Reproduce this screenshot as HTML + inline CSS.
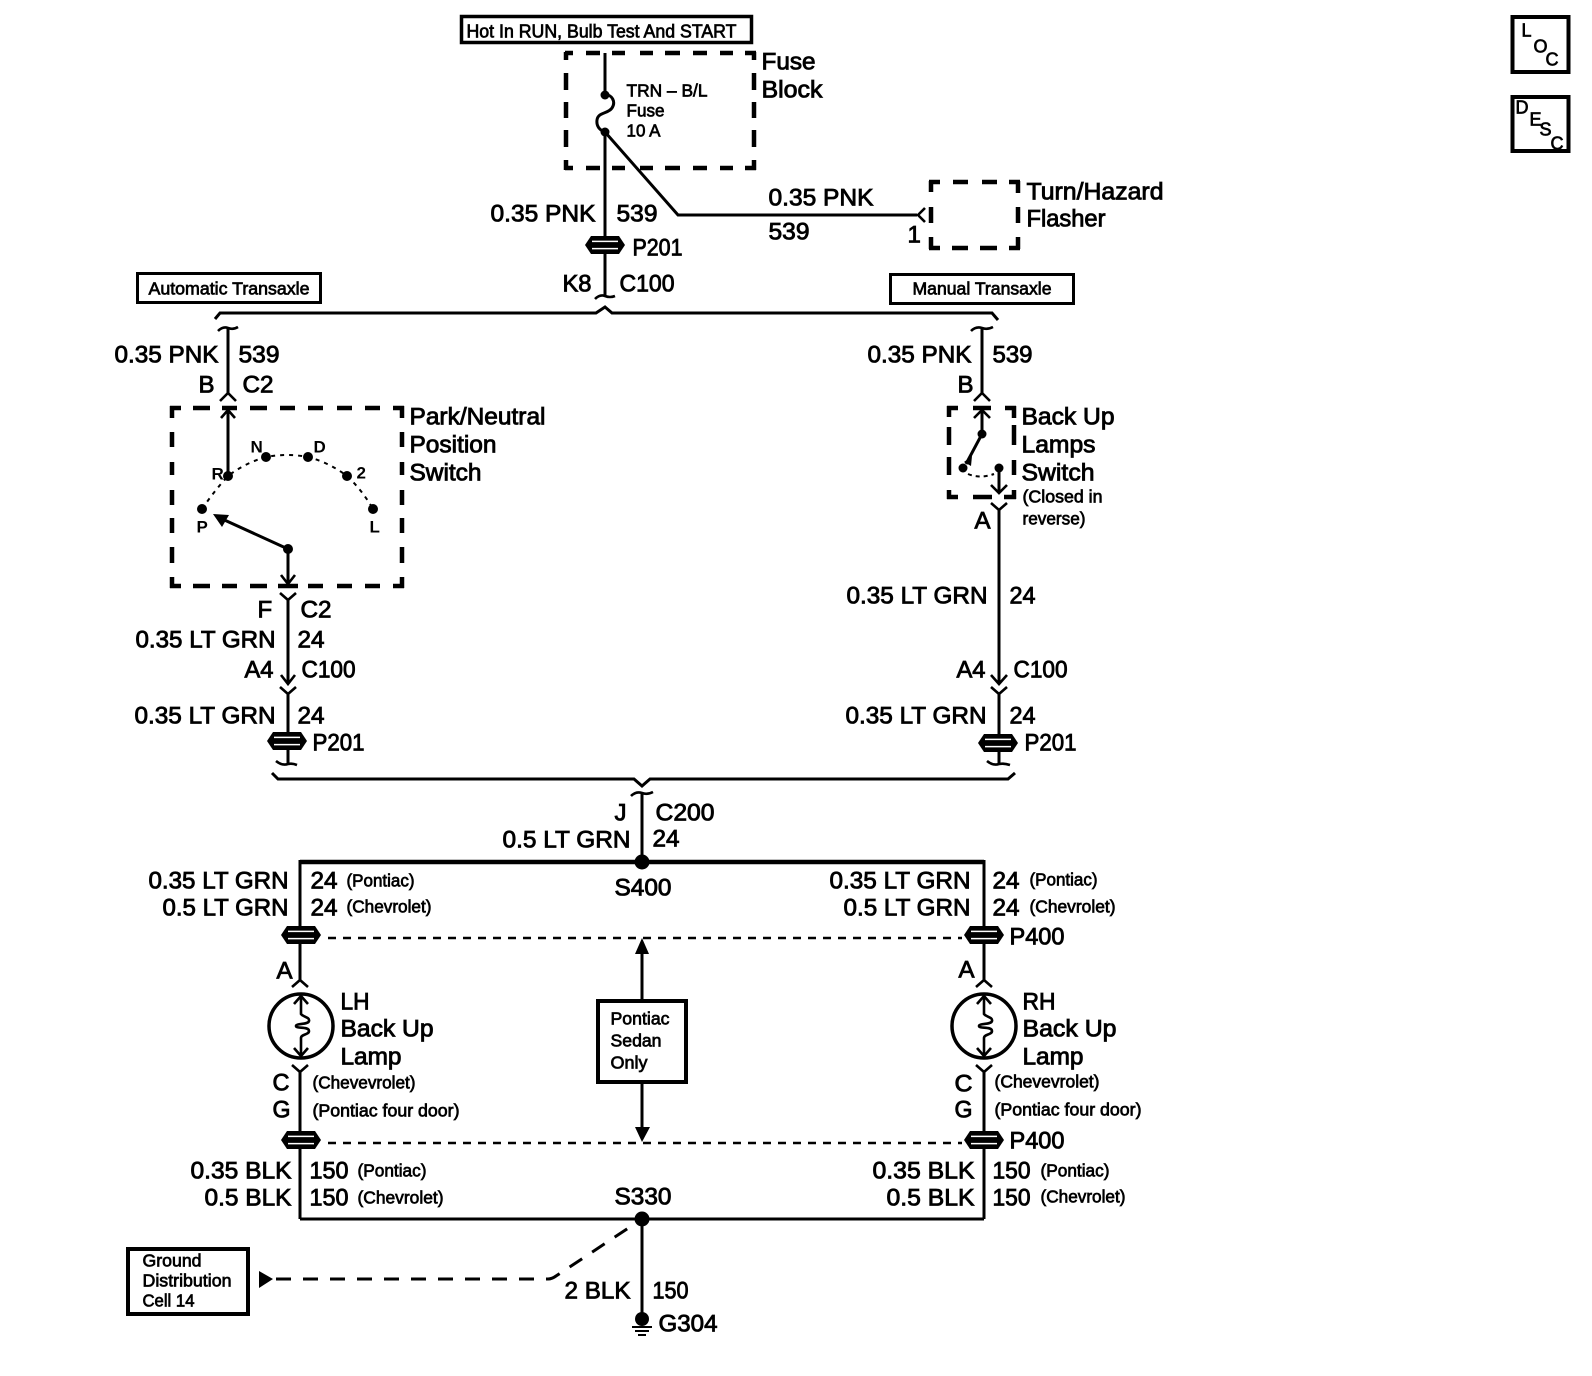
<!DOCTYPE html>
<html lang="en">
<head>
<meta charset="utf-8">
<title>Back Up Lamps Wiring Diagram</title>
<style>
html,body{margin:0;padding:0;background:#fff;width:1592px;height:1376px;overflow:hidden}
svg{display:block}
text{font-family:"Liberation Sans",sans-serif;fill:#000;stroke:#000;stroke-width:.85;transform:translate(-.5px,-.5px)}
.l{font-size:24px}
.m{font-size:18px;stroke-width:.7}
.s{font-size:17.5px;stroke-width:.7}
.t{font-size:17px;font-weight:bold;stroke-width:0}
.w{fill:none;stroke:#000;stroke-width:3}
.c{fill:none;stroke:#000;stroke-width:2.6}
.d{fill:none;stroke:#000;stroke-width:4.5}
.b{fill:#fff;stroke:#000}
</style>
</head>
<body>
<svg width="1592" height="1376" viewBox="0 0 1592 1376" xmlns="http://www.w3.org/2000/svg">
<defs>
<g id="conn">
<path d="M-20,0 L-14,-9 H14 L20,0 L14,9 H-14 Z" fill="#000"/>
<path d="M-13,-3.6 H13 M-13,3.6 H13" stroke="#fff" stroke-width="1.5"/>
</g>
</defs>
<rect width="1592" height="1376" fill="#fff"/>

<!-- Top box and fuse -->
<rect x="461.5" y="16.5" width="290" height="26" class="b" stroke-width="3.5"/>
<text class="m" x="467" y="38" textLength="270" lengthAdjust="spacingAndGlyphs">Hot In RUN, Bulb Test And START</text>
<g class="d">
<path d="M565,53 H573 M586,53 H600 M612,53 H625 M640,53 H653 M665,53 H680 M693,53 H707 M720,53 H733 M745,53 H756"/>
<path d="M565,168 H573 M586,168 H600 M612,168 H625 M640,168 H653 M665,168 H680 M693,168 H707 M720,168 H733 M745,168 H756"/>
<path d="M566,52 V60 M566,73 V90 M566,102 V118 M566,130 V147 M566,160 V170"/>
<path d="M754,52 V60 M754,73 V90 M754,102 V118 M754,130 V147 M754,160 V170"/>
</g>
<path class="w" d="M605,53 V95"/>
<circle cx="605" cy="95" r="4.5"/>
<path class="w" d="M605,95 C612,94 616,102 612,108 C608,114 598,112 597,120 C596,128 602,131 605,132"/>
<circle cx="605" cy="132" r="4.5"/>
<path class="w" d="M605,132 V237 M605,253 V295 M605,132 L678,215 H917"/>
<use href="#conn" x="605" y="245"/>
<path class="c" d="M595,299 Q600,294 605,296 Q610,298 615,296"/>
<text class="l" x="762" y="70" textLength="54" lengthAdjust="spacingAndGlyphs">Fuse</text>
<text class="l" x="762" y="98" textLength="61" lengthAdjust="spacingAndGlyphs">Block</text>
<text class="s" x="627" y="97" textLength="81" lengthAdjust="spacingAndGlyphs">TRN – B/L</text>
<text class="s" x="627" y="117" textLength="38" lengthAdjust="spacingAndGlyphs">Fuse</text>
<text class="s" x="627" y="137" textLength="34" lengthAdjust="spacingAndGlyphs">10 A</text>
<text class="l" x="491" y="222" textLength="105" lengthAdjust="spacingAndGlyphs">0.35 PNK</text>
<text class="l" x="617" y="222" textLength="41" lengthAdjust="spacingAndGlyphs">539</text>
<text class="l" x="633" y="256" textLength="50" lengthAdjust="spacingAndGlyphs">P201</text>
<text class="l" x="563" y="292" textLength="29" lengthAdjust="spacingAndGlyphs">K8</text>
<text class="l" x="620" y="292" textLength="55" lengthAdjust="spacingAndGlyphs">C100</text>

<!-- Flasher -->
<path class="c" d="M925,208 L918,215 L925,222"/>
<g class="d">
<path d="M929,182 H940 M953,182 H968 M982,182 H997 M1009,182 H1020"/>
<path d="M929,248 H940 M952,248 H968 M980,248 H997 M1009,248 H1020"/>
<path d="M931,181 V192 M931,207 V223 M931,237 V249"/>
<path d="M1018,181 V193 M1018,207 V223 M1018,237 V249"/>
</g>
<text class="l" x="769" y="206" textLength="105" lengthAdjust="spacingAndGlyphs">0.35 PNK</text>
<text class="l" x="769" y="240" textLength="41" lengthAdjust="spacingAndGlyphs">539</text>
<text class="l" x="908" y="243">1</text>
<text class="l" x="1027" y="200" textLength="137" lengthAdjust="spacingAndGlyphs">Turn/Hazard</text>
<text class="l" x="1027" y="227" textLength="79" lengthAdjust="spacingAndGlyphs">Flasher</text>

<!-- Transaxle boxes -->
<rect x="137.5" y="273.5" width="183" height="29" class="b" stroke-width="3"/>
<text class="s" x="149" y="295" textLength="161" lengthAdjust="spacingAndGlyphs">Automatic Transaxle</text>
<rect x="890.5" y="274.5" width="183" height="29" class="b" stroke-width="3"/>
<text class="s" x="913" y="295" textLength="139" lengthAdjust="spacingAndGlyphs">Manual Transaxle</text>

<!-- Upper bus -->
<path class="w" d="M215,319 L220,313 H596 L605,307 L612,313 H992 L998,320"/>

<!-- Park/Neutral branch -->
<path class="c" d="M218,331 Q223,326 228,328 Q233,330 238,327"/>
<path class="w" d="M228,328 V394"/>
<path class="c" d="M220,401 L228,393 L236,401"/>
<text class="l" x="115" y="363" textLength="104" lengthAdjust="spacingAndGlyphs">0.35 PNK</text>
<text class="l" x="239" y="363" textLength="41" lengthAdjust="spacingAndGlyphs">539</text>
<text class="l" x="199" y="393">B</text>
<text class="l" x="243" y="393" textLength="31" lengthAdjust="spacingAndGlyphs">C2</text>

<g class="d">
<path d="M170,408 H181 M193,408 H210 M222,408 H237 M250,408 H267 M280,408 H295 M308,408 H323 M337,408 H352 M365,408 H380 M393,408 H404"/>
<path d="M170,586 H181 M193,586 H210 M222,586 H237 M250,586 H267 M278,586 H298 M308,586 H323 M337,586 H352 M365,586 H380 M393,586 H404"/>
<path d="M172,406 V418 M172,432 V447 M172,462 V475 M172,490 V505 M172,518 V533 M172,547 V563 M172,577 V588"/>
<path d="M402,406 V418 M402,432 V447 M402,462 V475 M402,490 V505 M402,518 V533 M402,547 V563 M402,577 V588"/>
</g>
<path class="w" d="M228,410 V476"/>
<path class="c" d="M221,418 L228,410 L235,418"/>
<path fill="none" stroke="#000" stroke-width="2" stroke-dasharray="4 5" d="M202,509 Q215,490 228,476 Q245,463 266,457 Q287,453 308,457 Q330,463 347,476 Q362,490 373,509"/>
<g>
<circle cx="202" cy="509" r="5"/><circle cx="228" cy="476" r="5"/><circle cx="266" cy="457" r="5"/>
<circle cx="308" cy="457" r="5"/><circle cx="347" cy="476" r="5"/><circle cx="373" cy="509" r="5"/>
<circle cx="288" cy="549" r="5"/>
</g>
<path class="w" d="M288,549 L220,518 M288,549 V584"/>
<path d="M213,514 L229,515 L222,527 Z"/>
<path class="c" d="M281,575 L288,584 L295,575"/>
<text class="t" x="212" y="480">R</text>
<text class="t" x="251" y="453">N</text>
<text class="t" x="314" y="453">D</text>
<text class="t" x="357" y="479">2</text>
<text class="t" x="197" y="533">P</text>
<text class="t" x="370" y="533">L</text>
<text class="l" x="410" y="425" textLength="136" lengthAdjust="spacingAndGlyphs">Park/Neutral</text>
<text class="l" x="410" y="453" textLength="87" lengthAdjust="spacingAndGlyphs">Position</text>
<text class="l" x="410" y="481" textLength="72" lengthAdjust="spacingAndGlyphs">Switch</text>

<path class="c" d="M280,593 L288,600 L296,593"/>
<path class="w" d="M288,600 V684 M288,694 V733 M288,749 V765"/>
<path class="c" d="M281,675 L288,684 L295,675 M280,687 L288,694 L296,687"/>
<use href="#conn" x="287" y="741"/>
<path class="c" d="M276,761 Q282,766 288,764 Q292,763 297,765"/>
<text class="l" x="258" y="618">F</text>
<text class="l" x="301" y="618" textLength="31" lengthAdjust="spacingAndGlyphs">C2</text>
<text class="l" x="136" y="648" textLength="140" lengthAdjust="spacingAndGlyphs">0.35 LT GRN</text>
<text class="l" x="298" y="648" textLength="27" lengthAdjust="spacingAndGlyphs">24</text>
<text class="l" x="245" y="678" textLength="29" lengthAdjust="spacingAndGlyphs">A4</text>
<text class="l" x="302" y="678" textLength="54" lengthAdjust="spacingAndGlyphs">C100</text>
<text class="l" x="135" y="724" textLength="141" lengthAdjust="spacingAndGlyphs">0.35 LT GRN</text>
<text class="l" x="298" y="724" textLength="27" lengthAdjust="spacingAndGlyphs">24</text>
<text class="l" x="313" y="751" textLength="52" lengthAdjust="spacingAndGlyphs">P201</text>

<!-- Back Up Lamps switch branch -->
<path class="c" d="M971,331 Q976,326 982,328 Q987,330 993,327"/>
<path class="w" d="M982,328 V394"/>
<path class="c" d="M974,401 L982,393 L990,401"/>
<text class="l" x="868" y="363" textLength="104" lengthAdjust="spacingAndGlyphs">0.35 PNK</text>
<text class="l" x="993" y="363" textLength="40" lengthAdjust="spacingAndGlyphs">539</text>
<text class="l" x="958" y="393">B</text>
<g class="d">
<path d="M947,408 H958 M973,408 H991 M1005,408 H1016"/>
<path d="M947,497 H958 M973,497 H992 M1004,497 H1016"/>
<path d="M949,406 V417 M949,427 V445 M949,457 V475 M949,490 V499"/>
<path d="M1014,406 V418 M1014,425 V445 M1014,460 V475 M1014,490 V499"/>
</g>
<path class="w" d="M982,410 V434 L966,464"/>
<path class="c" d="M974,418 L982,410 L990,418"/>
<circle cx="982" cy="434" r="4.5"/>
<circle cx="963" cy="468" r="4.5"/>
<circle cx="999" cy="468" r="4.5"/>
<path d="M964,462 L972,456 L971,466 Z"/>
<path fill="none" stroke="#000" stroke-width="2" stroke-dasharray="4 4" d="M968,474 Q980,479 994,474"/>
<path class="w" d="M999,468 V493"/>
<path class="c" d="M991,485 L999,493 L1007,485"/>
<path class="c" d="M991,503 L999,510 L1007,503"/>
<path class="w" d="M999,510 V684 M999,694 V735 M999,751 V765"/>
<path class="c" d="M991,675 L999,684 L1007,675 M991,687 L999,694 L1007,687"/>
<use href="#conn" x="998" y="743"/>
<path class="c" d="M987,761 Q993,766 999,764 Q1004,763 1010,765"/>
<text class="l" x="1022" y="425" textLength="93" lengthAdjust="spacingAndGlyphs">Back Up</text>
<text class="l" x="1022" y="453" textLength="74" lengthAdjust="spacingAndGlyphs">Lamps</text>
<text class="l" x="1022" y="481" textLength="73" lengthAdjust="spacingAndGlyphs">Switch</text>
<text class="s" x="1023" y="503" textLength="80" lengthAdjust="spacingAndGlyphs">(Closed in</text>
<text class="s" x="1023" y="525" textLength="63" lengthAdjust="spacingAndGlyphs">reverse)</text>
<text class="l" x="975" y="529">A</text>
<text class="l" x="847" y="604" textLength="141" lengthAdjust="spacingAndGlyphs">0.35 LT GRN</text>
<text class="l" x="1010" y="604" textLength="26" lengthAdjust="spacingAndGlyphs">24</text>
<text class="l" x="957" y="678" textLength="29" lengthAdjust="spacingAndGlyphs">A4</text>
<text class="l" x="1014" y="678" textLength="54" lengthAdjust="spacingAndGlyphs">C100</text>
<text class="l" x="846" y="724" textLength="141" lengthAdjust="spacingAndGlyphs">0.35 LT GRN</text>
<text class="l" x="1010" y="724" textLength="26" lengthAdjust="spacingAndGlyphs">24</text>
<text class="l" x="1025" y="751" textLength="52" lengthAdjust="spacingAndGlyphs">P201</text>

<!-- Lower bus -->
<path class="w" d="M272,773 L278,779 H634 L642,786 L650,779 H1008 L1015,773"/>
<path class="c" d="M631,796 Q636,791 642,793 Q647,795 653,792"/>
<path class="w" d="M642,793 V862"/>
<text class="l" x="615" y="821">J</text>
<text class="l" x="656" y="821" textLength="59" lengthAdjust="spacingAndGlyphs">C200</text>
<text class="l" x="503" y="848" textLength="128" lengthAdjust="spacingAndGlyphs">0.5 LT GRN</text>
<text class="l" x="653" y="847" textLength="27" lengthAdjust="spacingAndGlyphs">24</text>
<path fill="none" stroke="#000" stroke-width="4.5" d="M300,862 H984"/>
<circle cx="642" cy="862" r="7.5"/>
<text class="l" x="615" y="896" textLength="57" lengthAdjust="spacingAndGlyphs">S400</text>
<path class="w" d="M300,860 V927 M984,860 V927"/>

<!-- Left labels upper -->
<text class="l" x="149" y="889" textLength="140" lengthAdjust="spacingAndGlyphs">0.35 LT GRN</text>
<text class="l" x="163" y="916" textLength="126" lengthAdjust="spacingAndGlyphs">0.5 LT GRN</text>
<text class="l" x="311" y="889" textLength="27" lengthAdjust="spacingAndGlyphs">24</text>
<text class="l" x="311" y="916" textLength="27" lengthAdjust="spacingAndGlyphs">24</text>
<text class="s" x="347" y="887" textLength="68" lengthAdjust="spacingAndGlyphs">(Pontiac)</text>
<text class="s" x="347" y="913" textLength="85" lengthAdjust="spacingAndGlyphs">(Chevrolet)</text>
<!-- Right labels upper -->
<text class="l" x="830" y="889" textLength="141" lengthAdjust="spacingAndGlyphs">0.35 LT GRN</text>
<text class="l" x="844" y="916" textLength="127" lengthAdjust="spacingAndGlyphs">0.5 LT GRN</text>
<text class="l" x="993" y="889" textLength="27" lengthAdjust="spacingAndGlyphs">24</text>
<text class="l" x="993" y="916" textLength="27" lengthAdjust="spacingAndGlyphs">24</text>
<text class="s" x="1030" y="886" textLength="68" lengthAdjust="spacingAndGlyphs">(Pontiac)</text>
<text class="s" x="1030" y="913" textLength="86" lengthAdjust="spacingAndGlyphs">(Chevrolet)</text>

<!-- Connectors and dashed lines -->
<use href="#conn" x="301" y="935"/>
<use href="#conn" x="984" y="935"/>
<use href="#conn" x="301" y="1140"/>
<use href="#conn" x="984" y="1140"/>
<path fill="none" stroke="#000" stroke-width="2.5" stroke-dasharray="8 7" d="M328,938 H962"/>
<path fill="none" stroke="#000" stroke-width="2.5" stroke-dasharray="8 7" d="M328,1143 H962"/>
<text class="l" x="1010" y="945" textLength="55" lengthAdjust="spacingAndGlyphs">P400</text>
<text class="l" x="1010" y="1149" textLength="55" lengthAdjust="spacingAndGlyphs">P400</text>

<!-- Left lamp -->
<path class="w" d="M300,943 V981"/>
<path class="c" d="M292,987 L300,980 L308,987"/>
<text class="l" x="277" y="979">A</text>
<g transform="translate(301,1026)">
<circle r="32" fill="none" stroke="#000" stroke-width="3.5"/>
<path class="c" d="M0,-31 V-12 C2,-9 9,-9 8,-5 C7,-1 -5,-3 -5,0 C-5,3 8,0 8,5 C8,9 0,8 0,12 V30"/>
<path class="c" d="M-7,-22 L0,-30 L7,-22 M-7,22 L0,30 L7,22"/>
</g>
<path class="c" d="M292,1065 L300,1072 L308,1065"/>
<path class="w" d="M300,1072 V1133 M300,1147 V1219"/>
<text class="l" x="341" y="1010" textLength="29" lengthAdjust="spacingAndGlyphs">LH</text>
<text class="l" x="341" y="1037" textLength="93" lengthAdjust="spacingAndGlyphs">Back Up</text>
<text class="l" x="341" y="1065" textLength="61" lengthAdjust="spacingAndGlyphs">Lamp</text>
<text class="s" x="313" y="1089" textLength="103" lengthAdjust="spacingAndGlyphs">(Chevevrolet)</text>
<text class="s" x="313" y="1117" textLength="147" lengthAdjust="spacingAndGlyphs">(Pontiac four door)</text>
<text class="l" x="273" y="1091" textLength="17" lengthAdjust="spacingAndGlyphs">C</text>
<text class="l" x="273" y="1118" textLength="18" lengthAdjust="spacingAndGlyphs">G</text>

<!-- Right lamp -->
<path class="w" d="M984,943 V981"/>
<path class="c" d="M976,987 L984,980 L992,987"/>
<text class="l" x="959" y="978">A</text>
<g transform="translate(984,1026)">
<circle r="32" fill="none" stroke="#000" stroke-width="3.5"/>
<path class="c" d="M0,-31 V-12 C2,-9 9,-9 8,-5 C7,-1 -5,-3 -5,0 C-5,3 8,0 8,5 C8,9 0,8 0,12 V30"/>
<path class="c" d="M-7,-22 L0,-30 L7,-22 M-7,22 L0,30 L7,22"/>
</g>
<path class="c" d="M976,1065 L984,1072 L992,1065"/>
<path class="w" d="M984,1072 V1133 M984,1147 V1219"/>
<text class="l" x="1023" y="1010" textLength="33" lengthAdjust="spacingAndGlyphs">RH</text>
<text class="l" x="1023" y="1037" textLength="94" lengthAdjust="spacingAndGlyphs">Back Up</text>
<text class="l" x="1023" y="1065" textLength="61" lengthAdjust="spacingAndGlyphs">Lamp</text>
<text class="s" x="995" y="1088" textLength="105" lengthAdjust="spacingAndGlyphs">(Chevevrolet)</text>
<text class="s" x="995" y="1116" textLength="147" lengthAdjust="spacingAndGlyphs">(Pontiac four door)</text>
<text class="l" x="955" y="1092" textLength="18" lengthAdjust="spacingAndGlyphs">C</text>
<text class="l" x="955" y="1118" textLength="18" lengthAdjust="spacingAndGlyphs">G</text>

<!-- Center box -->
<rect x="598" y="1001" width="88" height="81" class="b" stroke-width="4"/>
<text class="s" x="611" y="1025" textLength="59" lengthAdjust="spacingAndGlyphs">Pontiac</text>
<text class="s" x="611" y="1047" textLength="51" lengthAdjust="spacingAndGlyphs">Sedan</text>
<text class="s" x="611" y="1069" textLength="37" lengthAdjust="spacingAndGlyphs">Only</text>
<path class="w" d="M642,1000 V950 M642,1084 V1130"/>
<path d="M642,938 L649,954 H635 Z"/>
<path d="M642,1142 L650,1127 H635 Z"/>

<!-- Bottom labels -->
<text class="l" x="191" y="1179" textLength="101" lengthAdjust="spacingAndGlyphs">0.35 BLK</text>
<text class="l" x="205" y="1206" textLength="87" lengthAdjust="spacingAndGlyphs">0.5 BLK</text>
<text class="l" x="310" y="1179" textLength="39" lengthAdjust="spacingAndGlyphs">150</text>
<text class="l" x="310" y="1206" textLength="39" lengthAdjust="spacingAndGlyphs">150</text>
<text class="s" x="358" y="1177" textLength="69" lengthAdjust="spacingAndGlyphs">(Pontiac)</text>
<text class="s" x="358" y="1204" textLength="86" lengthAdjust="spacingAndGlyphs">(Chevrolet)</text>
<text class="l" x="873" y="1179" textLength="102" lengthAdjust="spacingAndGlyphs">0.35 BLK</text>
<text class="l" x="887" y="1206" textLength="88" lengthAdjust="spacingAndGlyphs">0.5 BLK</text>
<text class="l" x="993" y="1179" textLength="38" lengthAdjust="spacingAndGlyphs">150</text>
<text class="l" x="993" y="1206" textLength="38" lengthAdjust="spacingAndGlyphs">150</text>
<text class="s" x="1041" y="1177" textLength="69" lengthAdjust="spacingAndGlyphs">(Pontiac)</text>
<text class="s" x="1041" y="1203" textLength="85" lengthAdjust="spacingAndGlyphs">(Chevrolet)</text>
<text class="l" x="615" y="1205" textLength="57" lengthAdjust="spacingAndGlyphs">S330</text>
<path class="w" d="M300,1219 H984"/>
<circle cx="642" cy="1219" r="7.5"/>
<path class="w" d="M642,1219 V1318"/>
<circle cx="642" cy="1319" r="7"/>
<path stroke="#000" stroke-width="2" d="M632,1327 H652 M635,1331 H649 M638,1335 H646"/>
<text class="l" x="659" y="1332" textLength="59" lengthAdjust="spacingAndGlyphs">G304</text>
<text class="l" x="565" y="1299" textLength="66" lengthAdjust="spacingAndGlyphs">2 BLK</text>
<text class="l" x="653" y="1299" textLength="36" lengthAdjust="spacingAndGlyphs">150</text>

<!-- Ground reference -->
<path d="M259,1271 L273,1279 L259,1288 Z"/>
<path fill="none" stroke="#000" stroke-width="3" stroke-dasharray="15 12" d="M276,1279 H548 Q552,1279 556,1276 L636,1223"/>
<rect x="128" y="1249" width="120" height="65" class="b" stroke-width="4"/>
<text class="s" x="143" y="1267" textLength="59" lengthAdjust="spacingAndGlyphs">Ground</text>
<text class="s" x="143" y="1287" textLength="89" lengthAdjust="spacingAndGlyphs">Distribution</text>
<text class="s" x="143" y="1307" textLength="52" lengthAdjust="spacingAndGlyphs">Cell 14</text>

<!-- LOC / DESC -->
<rect x="1512.5" y="17" width="56" height="55" class="b" stroke-width="4"/>
<text class="m" x="1522" y="37">L</text>
<text class="m" x="1534" y="53">O</text>
<text class="m" x="1546" y="66">C</text>
<rect x="1512.5" y="97" width="56" height="54" class="b" stroke-width="4"/>
<text class="m" x="1516" y="114">D</text>
<text class="m" x="1530" y="126">E</text>
<text class="m" x="1540" y="136">S</text>
<text class="m" x="1551" y="150">C</text>
</svg>
</body>
</html>
